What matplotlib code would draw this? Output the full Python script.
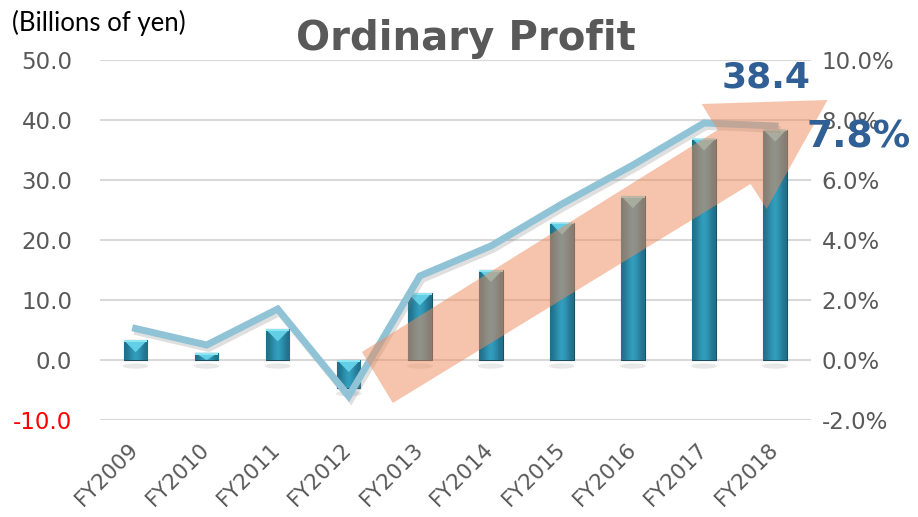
import numpy as np
import matplotlib
matplotlib.use("Agg")
import matplotlib.pyplot as plt
from matplotlib.patches import Polygon, Ellipse
import matplotlib.patheffects as pe

# data
years = ["FY2009", "FY2010", "FY2011", "FY2012", "FY2013",
         "FY2014", "FY2015", "FY2016", "FY2017", "FY2018"]
profit = [3.3, 1.2, 5.1, -4.6, 11.1, 15.0, 22.9, 27.3, 36.9, 38.4]
ratio = [1.05, 0.5, 1.7, -1.2, 2.8, 3.8, 5.2, 6.5, 7.9, 7.8]
left_ticks = [-10, 0, 10, 20, 30, 40, 50]
right_ticks = [-2, 0, 2, 4, 6, 8, 10]

gray = "#595959"
blue_txt = "#2f5f95"

fig = plt.figure(figsize=(9.18, 5.17), dpi=100)
ax = fig.add_axes([0.109, 0.1876, 0.774, 0.6964])
ax2 = ax.twinx()

x = np.arange(len(years))
w = 0.33
bars = ax.bar(x, profit, width=w, color="#2a8fb0", edgecolor="#1d4f60", linewidth=0.8, zorder=3)

# horizontal gradient inside each bar
grad = np.array([[0.0, 0.55, 1.0, 0.55, 0.0]])
cmap = matplotlib.colors.LinearSegmentedColormap.from_list("b", ["#216f8a", "#35a5c6"])
for b, v in zip(bars, profit):
    x0 = b.get_x()
    # soft shadow under the bar
    ax.add_patch(Ellipse((x0 + w / 2, min(0, v) - 1.0), w * 1.1, 0.9,
                         facecolor="gray", alpha=0.18, edgecolor="none", zorder=2))
    im = ax.imshow(grad, extent=[x0, x0 + w, min(0, v), max(0, v)], cmap=cmap,
                   aspect="auto", interpolation="bicubic", zorder=3.5)
    im.set_clip_path(b)
    # pyramid top
    top = max(0, v)
    d = min(2.0, abs(v))
    tri = Polygon([[x0, top], [x0 + w, top], [x0 + w / 2, top - d]],
                  closed=True, facecolor="#62cfe6", edgecolor="none", zorder=4)
    ax.add_patch(tri)
    ax.add_patch(Polygon([[x0, top], [x0 + w, top], [x0 + w, top - 0.3], [x0, top - 0.3]],
                         facecolor="#8fe4f2", edgecolor="none", zorder=4))

ax.set_xlim(-0.5, len(years) - 0.5)
ax.set_ylim(-10, 50)
ax.set_yticks(left_ticks)
ax.set_yticklabels([f"{t:.1f}" for t in left_ticks])
ax.yaxis.grid(True, color="#d9d9d9", linewidth=1.5, zorder=0)
ax.set_axisbelow(True)
ax.tick_params(axis="y", length=0, pad=20, labelsize=16.5, labelcolor=gray)
ax.get_yticklabels()[0].set_color("#ff0000")
ax.set_xticks(x)
ax.set_xticklabels(years, rotation=45, ha="right", va="center", rotation_mode="anchor")
ax.tick_params(axis="x", length=0, pad=19, labelsize=15.5, labelcolor=gray)

ax2.plot(x, ratio, color="#90c3d6", linewidth=5, solid_joinstyle="miter", zorder=5,
         path_effects=[pe.SimpleLineShadow(offset=(1.5, -2.5), shadow_color="gray", alpha=0.25),
                       pe.Normal()])
ax2.set_ylim(-2, 10)
ax2.set_yticks(right_ticks)
ax2.set_yticklabels([f"{t:.1f}%" for t in right_ticks])
ax2.tick_params(axis="y", length=0, pad=8, labelsize=16.5, labelcolor=gray)

for a in (ax, ax2):
    for s in a.spines.values():
        s.set_visible(False)

# trend arrow (decoration, pixel layout converted to axes fraction)
pts = [(393, 403), (751, 184), (767, 209), (828, 100), (702, 104), (718, 130), (362, 352)]
pts = [((px - 100) / 711, (420 - py) / 360) for px, py in pts]
ax2.add_patch(Polygon(pts, closed=True, transform=ax2.transAxes, facecolor="#ee8a5a",
                      alpha=0.5, edgecolor="none", zorder=10, clip_on=False))

fig.text(0.507, 0.925, "Ordinary Profit", ha="center", va="center",
         fontsize=29, fontweight="bold", color=gray)
fig.text(0.013, 0.955, "(Billions of yen)", ha="left", va="center", fontsize=18.5,
         family=["Lato", "DejaVu Sans"], color="black")
fig.text(0.835, 0.85, "38.4", ha="center", va="center",
         fontsize=26, fontweight="bold", color=blue_txt, zorder=12)
fig.text(0.935, 0.735, "7.8%", ha="center", va="center", fontsize=27,
         fontweight="bold", color=blue_txt, zorder=12)

fig.savefig("out.png", dpi=100)
